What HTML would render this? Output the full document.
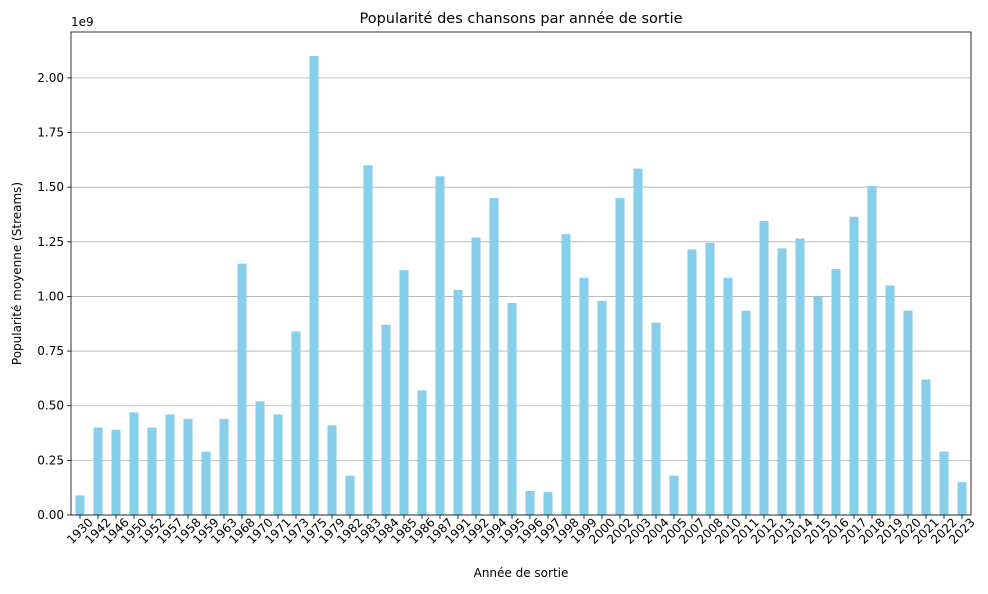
<!DOCTYPE html>
<html><head><meta charset="utf-8"><style>
body{margin:0;background:#fff;font-family:"Liberation Sans","DejaVu Sans",sans-serif}
</style></head><body>
<svg id="chart" width="988" height="589" xmlns="http://www.w3.org/2000/svg" font-family="DejaVu Sans, Liberation Sans, sans-serif">
<rect width="988" height="589" fill="#fff"/>
<g id="grid"></g><g id="bars"></g><g id="axes"></g>
</svg>
<script>
const categories=["1930","1942","1946","1950","1952","1957","1958","1959","1963","1968","1970","1971","1973","1975","1979","1982","1983","1984","1985","1986","1987","1991","1992","1994","1995","1996","1997","1998","1999","2000","2002","2003","2004","2005","2007","2008","2010","2011","2012","2013","2014","2015","2016","2017","2018","2019","2020","2021","2022","2023"];
const values=[0.09,0.40,0.39,0.47,0.40,0.46,0.44,0.29,0.44,1.15,0.52,0.46,0.84,2.10,0.41,0.18,1.60,0.87,1.12,0.57,1.55,1.03,1.27,1.45,0.97,0.11,0.105,1.285,1.085,0.98,1.45,1.585,0.88,0.18,1.215,1.245,1.085,0.935,1.345,1.22,1.265,1.0,1.125,1.365,1.505,1.05,0.935,0.62,0.29,0.15];
const yTicks=[0,0.25,0.5,0.75,1.0,1.25,1.5,1.75,2.0];
const yTickLabels=["0.00","0.25","0.50","0.75","1.00","1.25","1.50","1.75","2.00"];
const NS="http://www.w3.org/2000/svg";
const L=71,R=971,T=32,B=515,YMAX=2.21;
const y=v=>B-(v/YMAX)*(B-T);
const step=(R-L)/categories.length;
const x=i=>L+step*(i+0.5);
function mk(tag,attrs,parent){const e=document.createElementNS(NS,tag);for(const k in attrs)e.setAttribute(k,attrs[k]);parent.appendChild(e);return e;}
const grid=document.getElementById('grid'),bars=document.getElementById('bars'),axes=document.getElementById('axes');
yTicks.forEach((t,i)=>{
 const g=mk('line',{x1:L,x2:R,y1:y(t),y2:y(t),stroke:'#b0b0b0','stroke-width':0.8},grid);
 
 
 mk('line',{x1:L-4,x2:L,y1:y(t),y2:y(t),stroke:'#000','stroke-width':0.8},axes);
 const tx=mk('text',{x:L-7,y:y(t)+4,'text-anchor':'end','font-size':12},axes);
 tx.textContent=yTickLabels[i];
 
 
});
categories.forEach((c,i)=>{
 const bw=step*0.5;
 const r=mk('rect',{x:x(i)-bw/2,y:y(values[i]),width:bw,height:B-y(values[i]),fill:'#87ceeb'},bars);
 
 
 mk('line',{x1:x(i),x2:x(i),y1:B,y2:B+4,stroke:'#000','stroke-width':0.8},axes);
 const cx=x(i),cy=B+16;
 const tx=mk('text',{x:cx,y:cy+4,'text-anchor':'middle','font-size':12,transform:`rotate(-45 ${cx} ${cy})`},axes);
 tx.textContent=c;
 
 
});
const fr=mk('rect',{x:L,y:T,width:R-L,height:B-T,fill:'none',stroke:'#000','stroke-width':0.8},axes);


const t1=mk('text',{x:L,y:T-6,'font-size':12},axes);t1.textContent='1e9';


const t2=mk('text',{x:(L+R)/2,y:23,'text-anchor':'middle','font-size':14.5},axes);t2.textContent='Popularité des chansons par année de sortie';


const t3=mk('text',{x:(L+R)/2,y:577,'text-anchor':'middle','font-size':12},axes);t3.textContent='Année de sortie';


const t4=mk('text',{x:21,y:(T+B)/2,'text-anchor':'middle','font-size':12,transform:`rotate(-90 21 ${(T+B)/2})`},axes);t4.textContent='Popularité moyenne (Streams)';


</script>
</body></html>
